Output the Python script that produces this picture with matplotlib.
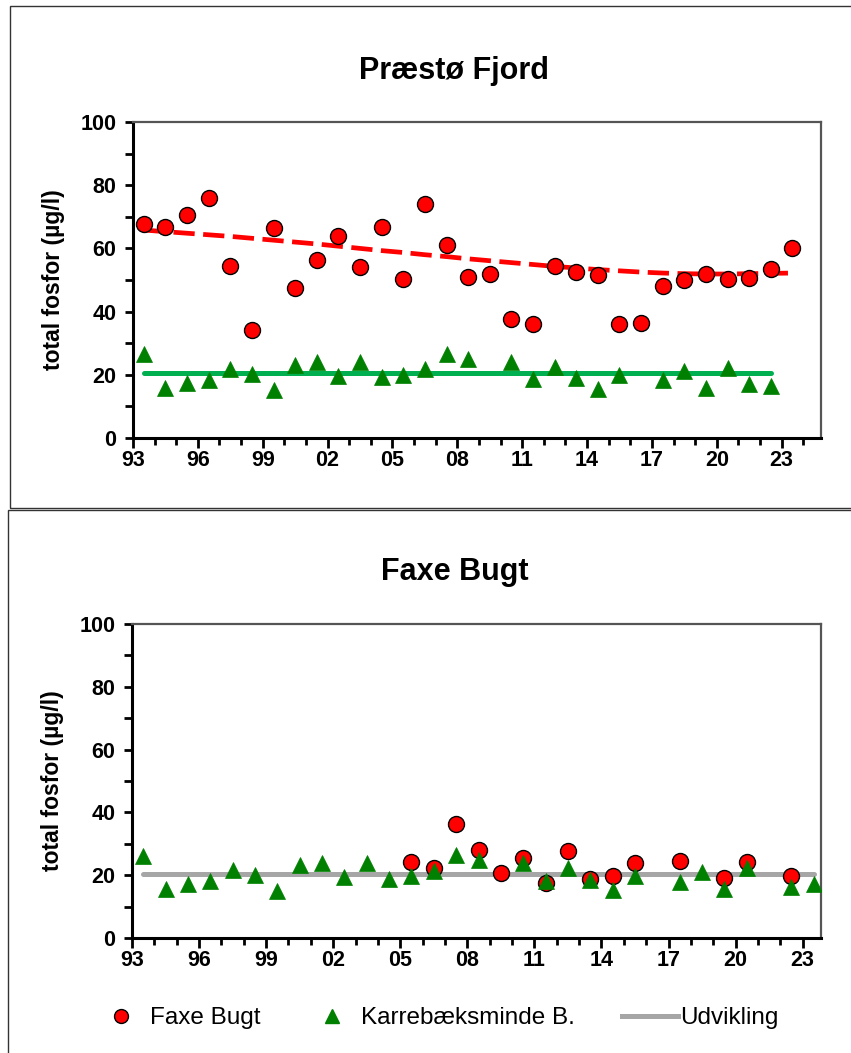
import matplotlib.pyplot as plt
from matplotlib.lines import Line2D
from matplotlib.patches import Rectangle

plt.rcParams['font.family'] = ['Liberation Sans', 'DejaVu Sans']

# --- data ---
# Præstø Fjord panel
praesto_years = list(range(1993, 2024))
praesto_tp = [67.6, 66.7, 70.5, 76.0, 54.5, 34.1, 66.5, 47.4, 56.3, 63.9,
              54.2, 66.7, 50.4, 74.1, 61.1, 51.0, 51.9, 37.6, 36.0, 54.5,
              52.4, 51.6, 36.0, 36.3, 48.2, 50.0, 51.9, 50.3, 50.7, 53.4, 60.2]
praesto_trend = [65.8, 65.3, 64.8, 64.3, 63.8, 63.2, 62.6, 62.0, 61.4, 60.7,
                 60.0, 59.3, 58.7, 58.0, 57.4, 56.7, 56.1, 55.5, 54.9, 54.3,
                 53.8, 53.3, 52.9, 52.5, 52.2, 52.0, 51.9, 51.9, 52.0, 52.1, 52.2]

karre_years_top = list(range(1993, 2009)) + list(range(2010, 2016)) + list(range(2017, 2023))
karre_top = [26.6, 15.7, 17.5, 18.2, 21.7, 20.1, 15.1, 23.1, 24.1, 19.6,
             24.1, 19.2, 19.9, 21.7, 26.6, 24.9,
             24.0, 18.7, 22.6, 18.9, 15.5, 19.9,
             18.2, 21.2, 15.7, 22.2, 17.2, 16.5]
karre_trend_top = [1993, 2022]
karre_level_top = 20.5

# Faxe Bugt panel
faxe_years = list(range(2005, 2016)) + [2017, 2019, 2020, 2022]
faxe_tp = [24.3, 22.2, 36.3, 28.0, 20.8, 25.4, 17.6, 27.7, 18.7, 19.8, 24.0,
           24.6, 19.2, 24.1, 19.8]

karre_years_bot = list(range(1993, 2009)) + list(range(2010, 2016)) + [2017, 2018, 2019, 2020, 2022, 2023]
karre_bot = [26.2, 15.5, 17.3, 18.0, 21.7, 20.0, 15.0, 23.1, 23.9, 19.5,
             23.8, 18.9, 19.7, 21.4, 26.4, 24.8,
             23.8, 18.2, 22.4, 18.5, 15.3, 19.8,
             17.9, 20.9, 15.6, 22.2, 16.3, 17.2]
faxe_trend_years = [1993, 2023]
faxe_level = 20.4

tick_labels = ['93', '96', '99', '02', '05', '08', '11', '14', '17', '20', '23']
y_label = 'total fosfor (µg/l)'

RED = '#FF0000'
GREEN = '#008000'
LGREEN = '#00B050'
GREY = '#A6A6A6'


def pos(years):
    return [y - 1993 + 0.5 for y in years]


def style_axes(ax, xmax, n_minor):
    ax.set_xlim(0, xmax)
    ax.set_ylim(0, 100)
    ax.set_xticks(range(0, 31, 3))
    ax.set_xticklabels(tick_labels)
    ax.set_xticks(range(0, n_minor + 1), minor=True)
    ax.set_yticks(range(0, 101, 20))
    ax.set_yticks(range(0, 101, 10), minor=True)
    ax.tick_params(axis='both', which='both', direction='out', width=2, colors='black',
                   labelsize=15.5)
    ax.tick_params(axis='x', which='major', length=7, pad=1.5)
    ax.tick_params(axis='x', which='minor', length=5)
    ax.tick_params(axis='y', which='both', length=6, pad=6)
    for lab in ax.get_xticklabels() + ax.get_yticklabels():
        lab.set_fontweight('bold')
    ax.spines['left'].set_linewidth(2.2)
    ax.spines['bottom'].set_linewidth(2.2)
    for s in ['top', 'right']:
        ax.spines[s].set_color('#555555')
        ax.spines[s].set_linewidth(1.6)
    ax.set_ylabel(y_label, fontsize=16.5, fontweight='bold', labelpad=11)


fig = plt.figure(figsize=(8.51, 10.53), dpi=100)

# frame boxes like the original chart objects
fig.patches.append(Rectangle((10 / 851, 1 - 508 / 1053), 1.0, 502 / 1053, transform=fig.transFigure,
                             fill=False, edgecolor='#333333', linewidth=1.0))
fig.patches.append(Rectangle((8 / 851, -0.01), 1.0, 1 - 510 / 1053 + 0.01, transform=fig.transFigure,
                             fill=False, edgecolor='#333333', linewidth=1.0))

# --- Præstø Fjord ---
ax1 = fig.add_axes([133 / 851, 1 - 438 / 1053, 688 / 851, 316 / 1053])
ax1.plot(pos(praesto_years), praesto_trend, color=RED, lw=3.4, ls=(0, (4.5, 1.8)), zorder=2)
ax1.plot(pos(karre_trend_top), [karre_level_top] * 2, color=LGREEN, lw=3.6,
         solid_capstyle='round', zorder=2)
ax1.plot(pos(praesto_years), praesto_tp, 'o', ms=11.5, mfc=RED, mec='black', mew=1.0, zorder=3)
ax1.plot(pos(karre_years_top), karre_top, '^', ms=12, mfc=GREEN, mec=GREEN, mew=0.5, zorder=4)
style_axes(ax1, 31.82, 31)
ax1.set_title('Præstø Fjord', fontsize=22, fontweight='bold', pad=31, x=(454 - 133) / 688)

# --- Faxe Bugt ---
ax2 = fig.add_axes([132 / 851, 1 - 938 / 1053, 689 / 851, 314 / 1053])
ax2.plot(pos(faxe_trend_years), [faxe_level] * 2, color=GREY, lw=3.6,
         solid_capstyle='round', zorder=2)
ax2.plot(pos(faxe_years), faxe_tp, 'o', ms=11.5, mfc=RED, mec='black', mew=1.0, zorder=3)
ax2.plot(pos(karre_years_bot), karre_bot, '^', ms=12, mfc=GREEN, mec=GREEN, mew=0.5, zorder=4)
style_axes(ax2, 30.82, 30)
ax2.set_title('Faxe Bugt', fontsize=22, fontweight='bold', pad=32, x=(455 - 132) / 689)

# legend entries, one small legend each so they sit where the original has them
entries = [
    (Line2D([], [], ls='none', marker='o', ms=10, mfc=RED, mec='black', mew=1.0),
     'Faxe Bugt', 97, 2.0, 0.2),
    (Line2D([], [], ls='none', marker='^', ms=10, mfc=GREEN, mec=GREEN),
     'Karrebæksminde B.', 308, 2.0, 0.2),
    (Line2D([], [], color=GREY, lw=3.6),
     'Udvikling', 622, 2.3, 0.08),
]
for h, label, x0, hl, tp in entries:
    fig.legend([h], [label], loc='center left', bbox_to_anchor=(x0 / 851, 1 - 1018 / 1053),
               frameon=False, fontsize=17.5, handlelength=hl, handletextpad=tp,
               borderpad=0, borderaxespad=0)

fig.savefig('out.png', dpi=100)
